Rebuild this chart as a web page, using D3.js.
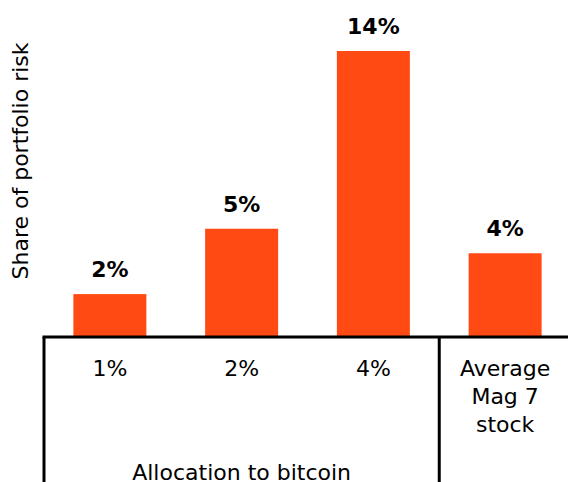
<html>
<head>
	<meta charset="utf-8">
	<script src="https://cdn.jsdelivr.net/npm/d3@7"></script>
	<style>
		body {
			margin: 0;
			background: #fff;
		}
		text {
			font-family: "DejaVu Sans", sans-serif;
			fill: #000;
		}
		.value {
			font-weight: 700;
			font-size: 22px;
		}
		.cat, .title {
			font-size: 22px;
		}
	</style>
</head>
<body>
	<svg id="chart" width="568" height="482"></svg>
<script>

var categories = ["1%", "2%", "4%", "Average Mag 7 stock"];
var catLines = [["1%"], ["2%"], ["4%"], ["Average", "Mag 7", "stock"]];
var values = [2.1, 5.3, 14.0, 4.1];
var valueLabels = ["2%", "5%", "14%", "4%"];
var groupLabel = "Allocation to bitcoin";
var yTitle = "Share of portfolio risk";

var svg = d3.select("#chart");

var x = d3.scaleBand()
	.domain(categories)
	.range([44, 571])
	.paddingInner(0.446)
	.paddingOuter(0.223);

var y = d3.scaleLinear()
	.domain([0, 14])
	.range([337, 51]);

// Bars
svg.selectAll(".bar")
	.data(values)
	.enter().append("rect")
		.attr("class", "bar")
		.attr("x", function(d, i) { return x(categories[i]); })
		.attr("width", x.bandwidth())
		.attr("y", function(d) { return y(d); })
		.attr("height", function(d) { return y(0) - y(d); })
		.attr("fill", "#ff4a14");

// Value labels
svg.selectAll(".value")
	.data(values)
	.enter().append("text")
		.attr("class", "value")
		.attr("text-anchor", "middle")
		.attr("x", function(d, i) { return x(categories[i]) + x.bandwidth() / 2; })
		.attr("y", function(d) { return y(d) - 17; })
		.text(function(d, i) { return valueLabels[i]; });

// Axis lines
var bottom = 482;
svg.append("line")
	.attr("x1", 42.5).attr("x2", 568)
	.attr("y1", y(0)).attr("y2", y(0))
	.attr("stroke", "#000").attr("stroke-width", 3);
svg.append("line")
	.attr("x1", 44).attr("x2", 44)
	.attr("y1", y(0)).attr("y2", bottom)
	.attr("stroke", "#000").attr("stroke-width", 3);
var divX = x(categories[3]) - x.step() * x.paddingInner() / 2;
svg.append("line")
	.attr("x1", divX).attr("x2", divX)
	.attr("y1", y(0)).attr("y2", bottom)
	.attr("stroke", "#000").attr("stroke-width", 3);

// Category labels
var cats = svg.selectAll(".cat")
	.data(catLines)
	.enter().append("text")
		.attr("class", "cat")
		.attr("text-anchor", "middle")
		.attr("y", 376);
cats.selectAll("tspan")
	.data(function(d, i) { return d.map(function(t) { return { t: t, i: i }; }); })
	.enter().append("tspan")
		.attr("x", function(d) { return x(categories[d.i]) + x.bandwidth() / 2; })
		.attr("dy", function(d, j) { return j === 0 ? 0 : 28; })
		.text(function(d) { return d.t; });

// Group label
svg.append("text")
	.attr("class", "title")
	.attr("text-anchor", "middle")
	.attr("x", (44 + divX) / 2)
	.attr("y", 480)
	.text(groupLabel);

// Y title
svg.append("text")
	.attr("class", "title")
	.attr("text-anchor", "middle")
	.attr("transform", "translate(28,161) rotate(-90)")
	.text(yTitle);

</script>
</body>
</html>
